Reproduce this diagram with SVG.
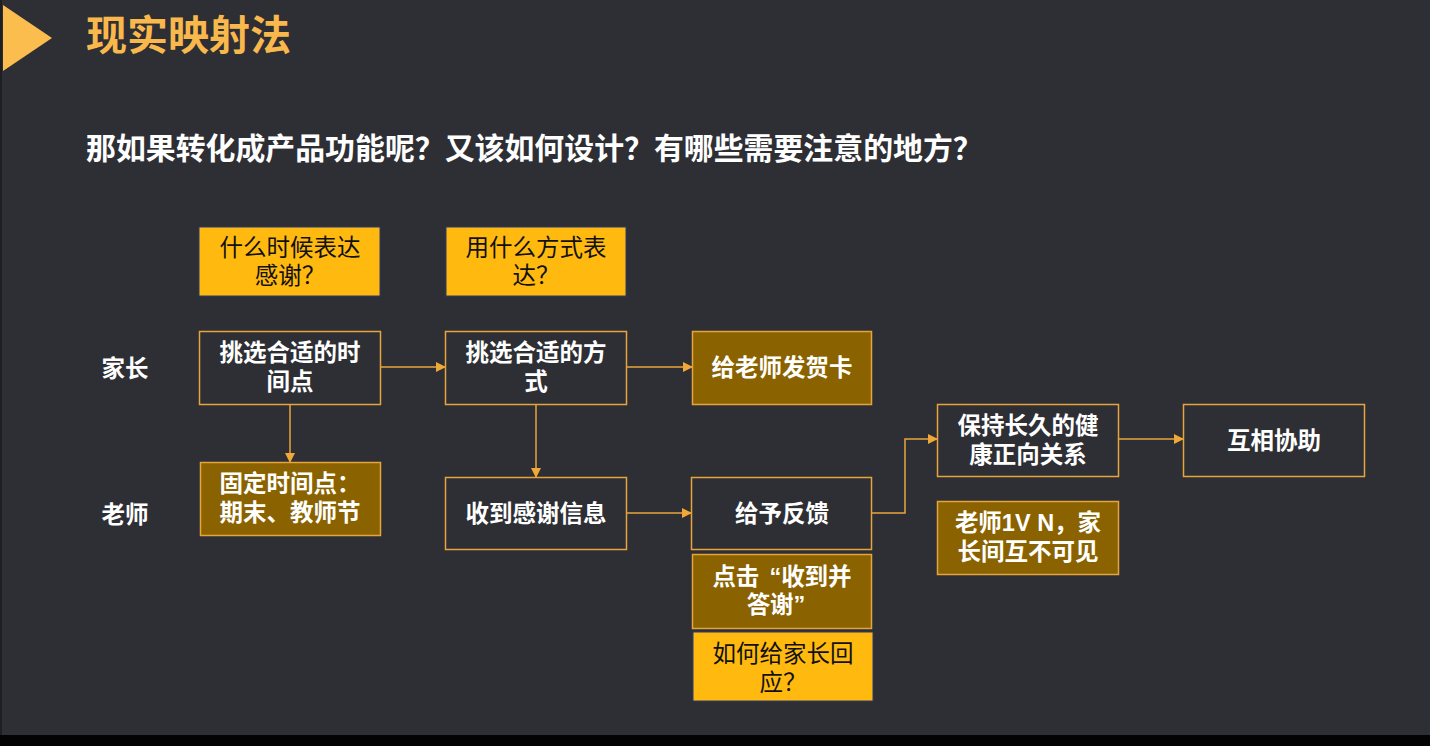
<svg xmlns="http://www.w3.org/2000/svg" width="1430" height="746" viewBox="0 0 1430 746">
<defs>
<style>
.t{font-family:"Liberation Sans","Noto Sans CJK SC",sans-serif;font-size:23.5px;text-anchor:middle}
.w{fill:#ffffff;font-weight:bold}
.k{fill:#111111}
.dark{fill:#2e2f35;stroke:#e6a43c;stroke-width:1.5}
.brown{fill:#8a6300;stroke:#e6a43c;stroke-width:1.5}
.yel{fill:#ffb90f;stroke:#2a3a6a;stroke-width:1}
.c{fill:none;stroke:#eaa53a;stroke-width:1.5}
</style>
<marker id="ah" markerWidth="10" markerHeight="10" refX="9" refY="5" orient="auto" markerUnits="userSpaceOnUse">
<path d="M0,0 L10,5 L0,10 Z" fill="#f0a838"/>
</marker>
</defs>
<rect x="0" y="0" width="1430" height="746" fill="#2e2f35"/>
<rect x="0" y="0" width="2" height="735" fill="#1e1f23"/>
<rect x="0" y="735" width="1430" height="11" fill="#030303"/>
<polygon points="3,5 52,38 3,71" fill="#fcbd4f"/>
<text x="86" y="50" font-family="'Liberation Sans','Noto Sans CJK SC',sans-serif" font-size="41" font-weight="bold" fill="#f9b84c">现实映射法</text>
<text x="86" y="159" font-family="'Liberation Sans','Noto Sans CJK SC',sans-serif" font-size="29.9" font-weight="bold" fill="#ffffff">那如果转化成产品功能呢？又该如何设计？有哪些需要注意的地方？</text>

<text x="125" y="377" class="t w" font-size="26">家长</text>
<text x="125" y="523" class="t w" font-size="26">老师</text>

<g id="connectors">
<line class="c" x1="381" y1="367" x2="445" y2="367" marker-end="url(#ah)"/>
<line class="c" x1="627" y1="367" x2="692" y2="367" marker-end="url(#ah)"/>
<line class="c" x1="290" y1="404" x2="290" y2="462" marker-end="url(#ah)"/>
<line class="c" x1="536" y1="404" x2="536" y2="477" marker-end="url(#ah)"/>
<line class="c" x1="627" y1="513" x2="691" y2="513" marker-end="url(#ah)"/>
<polyline class="c" points="872,513 905,513 905,439 937,439" marker-end="url(#ah)"/>
<line class="c" x1="1119" y1="439" x2="1183" y2="439" marker-end="url(#ah)"/>
</g>

<g id="q-when"><rect class="yel" x="199" y="227" width="181" height="69"/>
<text class="t k" x="290" y="256">什么时候表达</text><text class="t k" x="290" y="284">感谢？</text></g>
<g id="q-how"><rect class="yel" x="446" y="227" width="180" height="69"/>
<text class="t k" x="536" y="256">用什么方式表</text><text class="t k" x="536" y="284">达？</text></g>
<g id="pick-time"><rect class="dark" x="199.5" y="331.5" width="181" height="73"/>
<text class="t w" x="290" y="361">挑选合适的时</text><text class="t w" x="290" y="390">间点</text></g>
<g id="pick-way"><rect class="dark" x="445.5" y="331.5" width="181" height="73"/>
<text class="t w" x="536" y="361">挑选合适的方</text><text class="t w" x="536" y="390">式</text></g>
<g id="card"><rect class="brown" x="692.5" y="331.5" width="179" height="73"/>
<text class="t w" x="782" y="376">给老师发贺卡</text></g>
<g id="fixed"><rect class="brown" x="200.5" y="462.5" width="180" height="73"/>
<text class="t w" x="290" y="492">固定时间点：</text><text class="t w" x="290" y="521">期末、教师节</text></g>
<g id="receive"><rect class="dark" x="445.5" y="477.5" width="181" height="72"/>
<text class="t w" x="536" y="522">收到感谢信息</text></g>
<g id="feedback"><rect class="dark" x="691.5" y="477.5" width="180" height="72"/>
<text class="t w" x="782" y="522">给予反馈</text></g>
<g id="click"><rect class="brown" x="692.5" y="554.5" width="179" height="74"/>
<text class="t w" x="782" y="585">点击<tspan dx="10">“</tspan>收到并</text><text class="t w" x="776" y="613">答谢”</text></g>
<g id="q-reply"><rect class="yel" x="693" y="632" width="180" height="69"/>
<text class="t k" x="783" y="662">如何给家长回</text><text class="t k" x="783" y="691">应？</text></g>
<g id="relation"><rect class="dark" x="937.5" y="404.5" width="181" height="72"/>
<text class="t w" x="1028" y="434">保持长久的健</text><text class="t w" x="1028" y="463">康正向关系</text></g>
<g id="help"><rect class="dark" x="1183.5" y="404.5" width="181" height="72"/>
<text class="t w" x="1274" y="449">互相协助</text></g>
<g id="note"><rect class="brown" x="937.5" y="501.5" width="181" height="73"/>
<text class="t w" x="1028" y="531">老师1V N，家</text><text class="t w" x="1028" y="560">长间互不可见</text></g>
</svg>
